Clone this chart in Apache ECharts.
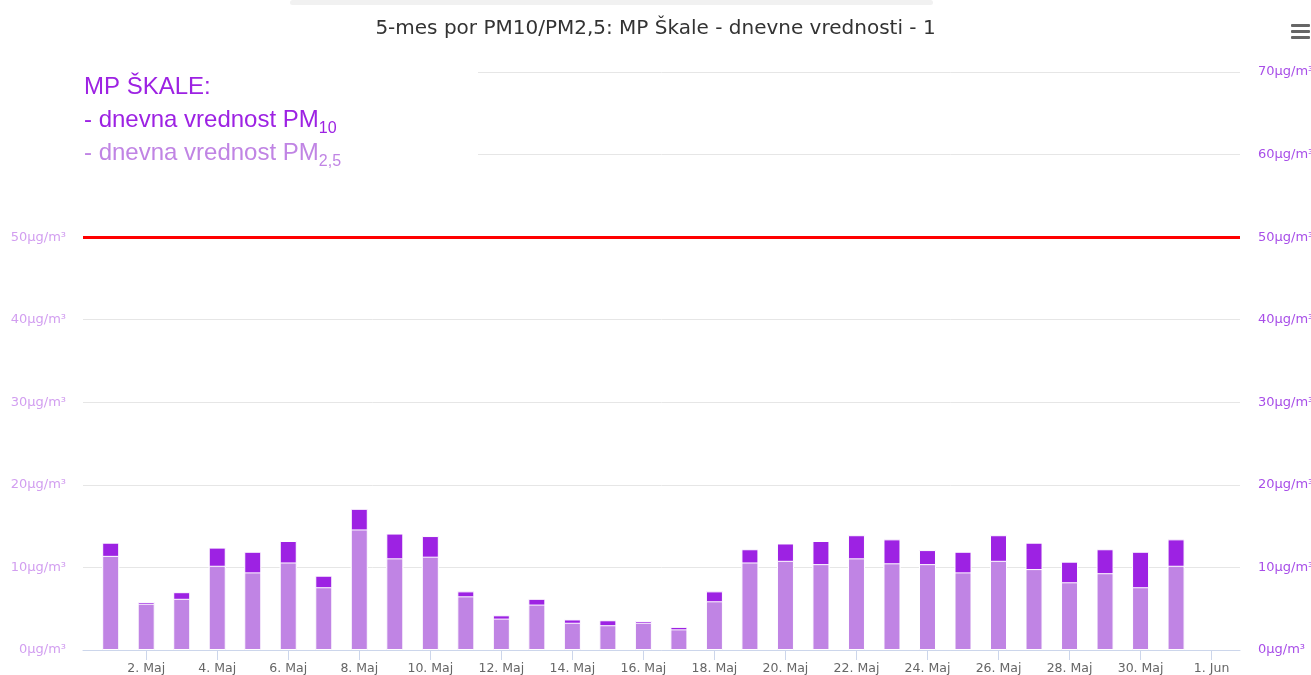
<!DOCTYPE html>
<html>
<head>
<meta charset="utf-8">
<title>MP Škale - dnevne vrednosti</title>
<script src="https://cdn.jsdelivr.net/npm/echarts@6/dist/echarts.min.js"></script>
<style>
  html, body { margin: 0; padding: 0; background: #fff; }
  #container { width: 1311px; height: 675px; }
</style>
</head>
<body>
<div id="container"></div>
<script type="text/javascript">
    // dan v maju (1..31), 32 = 1. Jun
    var days = [];
    for (var d = 1; d <= 31; d++) { days.push(d); }

    var pm10 = [13.0, 5.8, 7.0, 12.4, 11.9, 13.2, 9.0, 17.1, 14.1, 13.8,
                7.1, 4.2, 6.2, 3.7, 3.6, 3.5, 2.8, 7.1, 12.2, 12.9,
                13.2, 13.9, 13.4, 12.1, 11.9, 13.9, 13.0, 10.7, 12.2, 11.9, 13.4];
    var pm25 = [11.4, 5.6, 6.2, 10.2, 9.4, 10.6, 7.6, 14.6, 11.1, 11.3,
                6.5, 3.8, 5.5, 3.3, 3.0, 3.3, 2.5, 5.9, 10.6, 10.8,
                10.4, 11.1, 10.5, 10.4, 9.4, 10.8, 9.8, 8.2, 9.3, 7.6, 10.2];

    var tickDays = [2, 4, 6, 8, 10, 12, 14, 16, 18, 20, 22, 24, 26, 28, 30, 32];
    var limitValue = 50;

    var colPM10 = '#9d22e3';
    var colPM25 = '#c084e4';

    function dayLabel(v) {
        if (v === 32) return '1. Jun';
        return v + '. Maj';
    }

    var mychart = echarts.init(document.getElementById('container'));

    var pairs10 = [], pairs25 = [];
    for (var i = 0; i < days.length; i++) {
        pairs10.push([days[i], pm10[i]]);
        pairs25.push([days[i], pm25[i]]);
    }

    var options = {
        animation: false,
        textStyle: { fontFamily: 'DejaVu Sans' },
        title: {
            text: '5-mes por PM10/PM2,5: MP Škale - dnevne vrednosti - 1',
            left: 'center',
            top: 14,
            textStyle: { fontSize: 20, fontWeight: 'normal', color: '#333', fontFamily: 'DejaVu Sans' }
        },
        grid: { left: 83, right: 71, top: 72, bottom: 25, outerBoundsMode: 'none', containLabel: false },
        xAxis: {
            type: 'value',
            min: 0.22,
            max: 32.8,
            axisLine: { show: true, lineStyle: { color: '#ccd6eb' } },
            axisTick: { show: true, length: 10, lineStyle: { color: '#ccd6eb' }, customValues: tickDays },
            axisLabel: {
                customValues: tickDays,
                formatter: dayLabel,
                color: '#666', fontSize: 12.5, margin: 12
            },
            splitLine: { show: false }
        },
        yAxis: [{
            type: 'value', min: 0, max: 70, interval: 10,
            axisLabel: { formatter: '{value}μg/m³', color: '#d29ef0', fontSize: 13, margin: 17 },
            axisLine: { show: false }, axisTick: { show: false },
            splitLine: { lineStyle: { color: '#e6e6e6' } }
        }, {
            type: 'value', min: 0, max: 70, interval: 10, position: 'right',
            axisLabel: { formatter: '{value}μg/m³', color: '#a84ee8', fontSize: 13, margin: 18 },
            axisLine: { show: false }, axisTick: { show: false },
            splitLine: { show: false }
        }],
        series: [{
            name: 'PM10',
            type: 'bar',
            data: pairs10,
            barWidth: 17,
            barGap: '-100%',
            itemStyle: { color: colPM10, borderColor: '#fff', borderWidth: 1 },
            markLine: {
                silent: true,
                symbol: 'none',
                label: { show: false },
                lineStyle: { color: '#ff0000', width: 3, type: 'solid' },
                data: [{ yAxis: limitValue }]
            },
            z: 2
        }, {
            name: 'PM2,5',
            type: 'bar',
            data: pairs25,
            barWidth: 17,
            barGap: '-100%',
            itemStyle: { color: colPM25, borderColor: '#fff', borderWidth: 1 },
            z: 3
        }],
        graphic: [
            { type: 'rect', left: 290, top: 0, shape: { width: 643, height: 5, r: 3 }, style: { fill: '#f1f1f1' } },
            { type: 'rect', left: 0, top: 60, shape: { width: 478, height: 115 }, style: { fill: '#fff' }, z: 5 },
            {
                type: 'text', left: 84, top: 75, z: 6,
                style: {
                    text: '{a|MP ŠKALE:}\n{a|- dnevna vrednost PM}{as|10}\n{b|- dnevna vrednost PM}{bs|2,5}',
                    fontFamily: 'Liberation Sans',
                    fill: colPM10,
                    rich: {
                        a: { fontSize: 24, fill: colPM10, lineHeight: 33, fontFamily: 'Liberation Sans' },
                        as: { fontSize: 16, fill: colPM10, lineHeight: 33, verticalAlign: 'bottom', padding: [12, 0, 0, 0], fontFamily: 'Liberation Sans' },
                        b: { fontSize: 24, fill: colPM25, lineHeight: 33, fontFamily: 'Liberation Sans' },
                        bs: { fontSize: 16, fill: colPM25, lineHeight: 33, verticalAlign: 'bottom', padding: [12, 0, 0, 0], fontFamily: 'Liberation Sans' }
                    }
                }
            },
            { type: 'rect', left: 1291, top: 24, shape: { width: 19, height: 3, r: 1 }, style: { fill: '#666' } },
            { type: 'rect', left: 1291, top: 30, shape: { width: 19, height: 3, r: 1 }, style: { fill: '#666' } },
            { type: 'rect', left: 1291, top: 36, shape: { width: 19, height: 3, r: 1 }, style: { fill: '#666' } }
        ]
    };

    mychart.setOption(options);
</script>
</body>
</html>
